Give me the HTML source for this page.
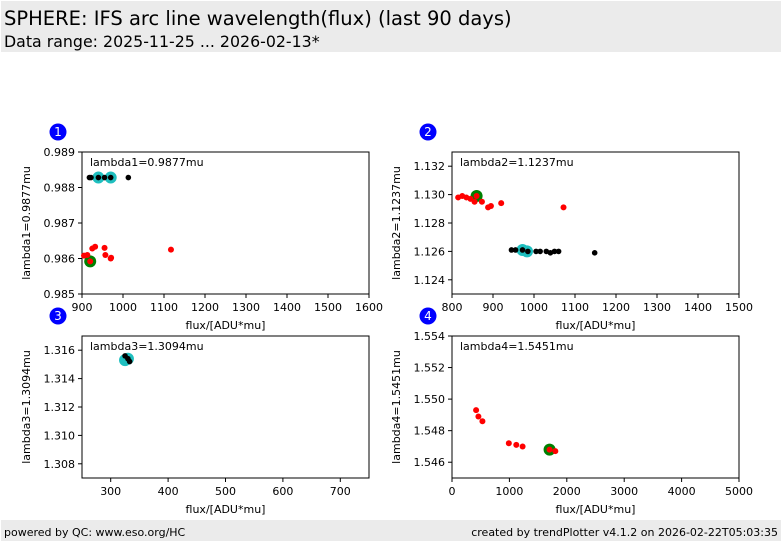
<!DOCTYPE html>
<html><head><meta charset="utf-8">
<style>
body{margin:0;width:782px;height:542px;overflow:hidden;background:#fff;font-family:"DejaVu Sans","Liberation Sans",sans-serif;}
svg{display:block}
</style></head>
<body>
<svg id="chart" width="782" height="542" xmlns="http://www.w3.org/2000/svg" font-family="DejaVu Sans, Liberation Sans, sans-serif">
<rect x="1" y="1" width="780" height="51" fill="#ebebeb"/>
<text x="4" y="25" font-size="19.5" fill="#000">SPHERE: IFS arc line wavelength(flux) (last 90 days)</text>
<text x="4" y="47" font-size="15.8" fill="#000">Data range: 2025-11-25 ... 2026-02-13*</text>
<rect x="1" y="520" width="780" height="21" fill="#ebebeb"/>
<text x="4" y="536" font-size="11">powered by QC: www.eso.org/HC</text>
<text x="778" y="536" font-size="11" text-anchor="end">created by trendPlotter v4.1.2 on 2026-02-22T05:03:35</text>
<g id="plots"></g>
</svg>
<script>
// Panel 1 data
const p1BlackX=[918,922,940,955,970,1013];
const p1BlackY=[0.98828,0.98828,0.98828,0.98828,0.98828,0.98828];
const p1CyanX=[940,970];
const p1CyanY=[0.98828,0.98828];
const p1RedX=[905,913,925,932,955,957,970,971,1117,920];
const p1RedY=[0.98608,0.9861,0.98628,0.98633,0.9863,0.9861,0.986,0.98602,0.98625,0.98592];
const p1GreenX=[920];
const p1GreenY=[0.98592];
const p1XTicks=[900,1000,1100,1200,1300,1400,1500,1600];
const p1YTicks=[0.985,0.986,0.987,0.988,0.989];
// Panel 2 data
const p2BlackX=[945,955,972,985,1005,1015,1030,1040,1050,1060,1148];
const p2BlackY=[1.1261,1.1261,1.1261,1.1260,1.1260,1.1260,1.1260,1.1259,1.1260,1.1260,1.1259];
const p2CyanX=[972,983];
const p2CyanY=[1.1261,1.1260];
const p2RedX=[815,825,835,845,855,860,873,888,895,920,1072];
const p2RedY=[1.1298,1.1299,1.1298,1.1297,1.1295,1.1299,1.1295,1.1291,1.1292,1.1294,1.1291];
const p2GreenX=[860];
const p2GreenY=[1.1299];
const p2XTicks=[800,900,1000,1100,1200,1300,1400,1500];
const p2YTicks=[1.124,1.126,1.128,1.130,1.132];
// Panel 3 data
const p3BlackX=[325,330,333];
const p3BlackY=[1.3156,1.3154,1.3152];
const p3CyanX=[325,330];
const p3CyanY=[1.3153,1.3154];
const p3RedX=[];
const p3RedY=[];
const p3GreenX=[];
const p3GreenY=[];
const p3XTicks=[300,400,500,600,700];
const p3YTicks=[1.308,1.310,1.312,1.314,1.316];
// Panel 4 data
const p4BlackX=[];
const p4BlackY=[];
const p4CyanX=[];
const p4CyanY=[];
const p4RedX=[420,460,530,990,1120,1230,1700,1800];
const p4RedY=[1.5493,1.5489,1.5486,1.5472,1.5471,1.5470,1.5468,1.5467];
const p4GreenX=[1700];
const p4GreenY=[1.5468];
const p4XTicks=[0,1000,2000,3000,4000,5000];
const p4YTicks=[1.546,1.548,1.550,1.552,1.554];

const NS='http://www.w3.org/2000/svg';
const root=document.getElementById('plots');
function mk(tag,attrs,parent){const e=document.createElementNS(NS,tag);for(const k in attrs)e.setAttribute(k,attrs[k]);(parent||root).appendChild(e);return e;}

const panels=[
 {n:1,x0:82,y0:152,xd:[900,1600],yd:[0.985,0.989],xt:p1XTicks,yt:p1YTicks,dec:3,lab:'lambda1=0.9877mu',bx:p1BlackX,by:p1BlackY,cx:p1CyanX,cy:p1CyanY,rx:p1RedX,ry:p1RedY,gx:p1GreenX,gy:p1GreenY},
 {n:2,x0:452,y0:152,xd:[800,1500],yd:[1.123,1.133],xt:p2XTicks,yt:p2YTicks,dec:3,lab:'lambda2=1.1237mu',bx:p2BlackX,by:p2BlackY,cx:p2CyanX,cy:p2CyanY,rx:p2RedX,ry:p2RedY,gx:p2GreenX,gy:p2GreenY},
 {n:3,x0:82,y0:336,xd:[250,750],yd:[1.307,1.317],xt:p3XTicks,yt:p3YTicks,dec:3,lab:'lambda3=1.3094mu',bx:p3BlackX,by:p3BlackY,cx:p3CyanX,cy:p3CyanY,rx:p3RedX,ry:p3RedY,gx:p3GreenX,gy:p3GreenY},
 {n:4,x0:452,y0:336,xd:[0,5000],yd:[1.545,1.554],xt:p4XTicks,yt:p4YTicks,dec:3,lab:'lambda4=1.5451mu',bx:p4BlackX,by:p4BlackY,cx:p4CyanX,cy:p4CyanY,rx:p4RedX,ry:p4RedY,gx:p4GreenX,gy:p4GreenY}
];
const W=287,H=142;
panels.forEach(p=>{
 const g=mk('g',{});
 
 
 const sx=v=>p.x0+(v-p.xd[0])/(p.xd[1]-p.xd[0])*W;
 const sy=v=>p.y0+H-(v-p.yd[0])/(p.yd[1]-p.yd[0])*H;
 const badge=mk('g',{},g);
 
 
 mk('circle',{cx:p.x0-24,cy:p.y0-20,r:8.5,fill:'#0000ff'},badge);
 const bt=mk('text',{x:p.x0-24,y:p.y0-16,'font-size':12,fill:'#fff','text-anchor':'middle'},badge);bt.textContent=p.n;
 const frame=mk('rect',{x:p.x0,y:p.y0,width:W,height:H,fill:'#fff',stroke:'#000','stroke-width':1},g);
 
 
 p.xt.forEach(t=>{const x=sx(t);mk('line',{x1:x,x2:x,y1:p.y0+H,y2:p.y0+H+4,stroke:'#000'},g);
  const tx=mk('text',{x:x,y:p.y0+H+17,'font-size':11,'text-anchor':'middle'},g);tx.textContent=t;
  
  });
 p.yt.forEach(t=>{const y=sy(t);mk('line',{x1:p.x0-4,x2:p.x0,y1:y,y2:y,stroke:'#000'},g);
  const ty=mk('text',{x:p.x0-7,y:y+4,'font-size':11,'text-anchor':'end'},g);ty.textContent=t.toFixed(p.dec);
  
  });
 const xl=mk('text',{x:p.x0+W/2,y:p.y0+H+35,'font-size':11,'text-anchor':'middle'},g);xl.textContent='flux/[ADU*mu]';
 
 
 const yx=p.x0-52,yy=p.y0+H/2;
 const yl=mk('text',{x:yx,y:yy,'font-size':11,'text-anchor':'middle',transform:'rotate(-90 '+yx+' '+yy+')'},g);yl.textContent=p.lab;
 
 
 const lt=mk('text',{x:p.x0+8,y:p.y0+14,'font-size':11},g);lt.textContent=p.lab;
 
 
 p.cx.forEach((v,i)=>{const c=mk('circle',{cx:sx(v),cy:sy(p.cy[i]),r:6,fill:'#1fbfbf'},g);
  
  });
 p.bx.forEach((v,i)=>{const c=mk('circle',{cx:sx(v),cy:sy(p.by[i]),r:2.8,fill:'#000'},g);
  
  });
 p.gx.forEach((v,i)=>{const c=mk('circle',{cx:sx(v),cy:sy(p.gy[i]),r:6,fill:'#008000'},g);
  
  });
 p.rx.forEach((v,i)=>{const c=mk('circle',{cx:sx(v),cy:sy(p.ry[i]),r:3,fill:'#ff0000'},g);
  
  });
});
</script>
</body></html>
